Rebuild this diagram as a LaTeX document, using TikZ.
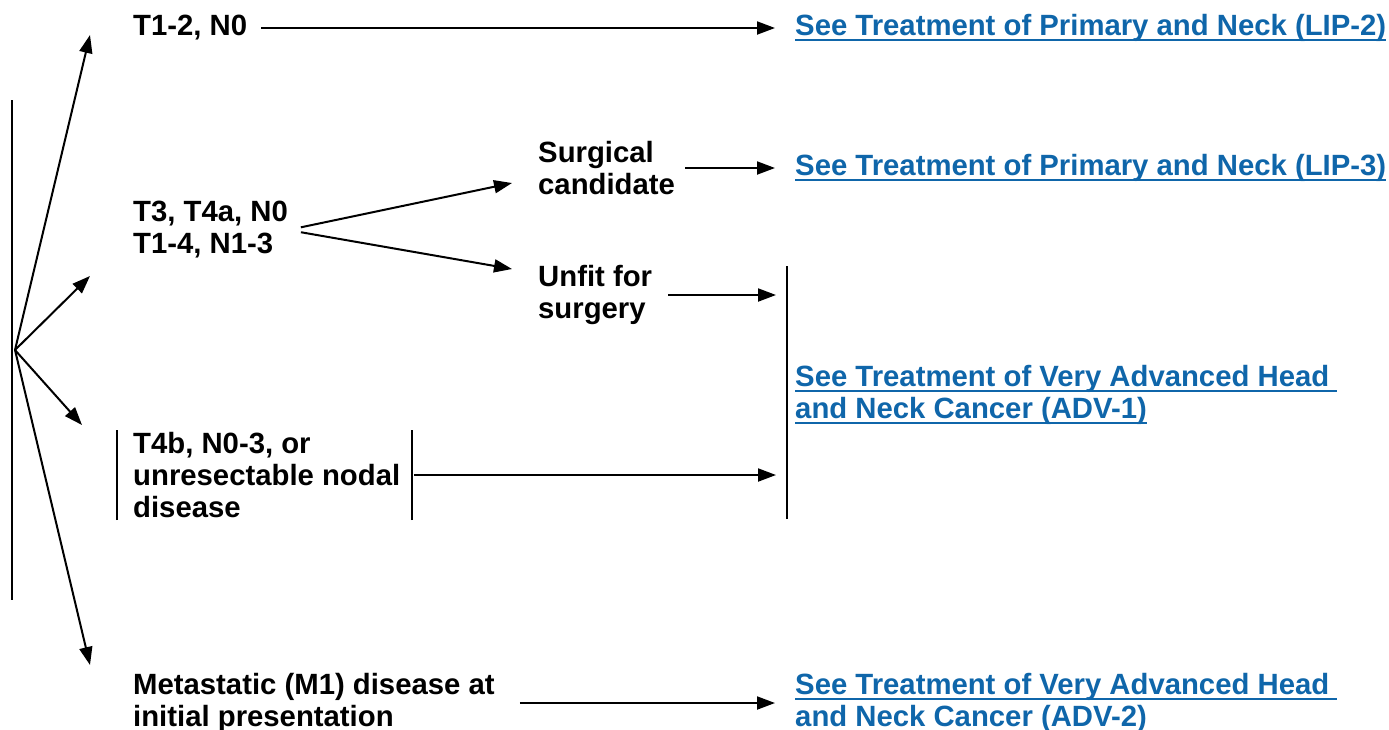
\documentclass[tikz,border=0pt]{standalone}
\usepackage{fontspec}
\setmainfont{Liberation Sans}
\usepackage{tikz}
\usetikzlibrary{positioning,arrows.meta,calc}
\definecolor{nclink}{HTML}{0F66AA}
\newcommand{\linkline}[1]{\setbox0\hbox{#1}\rlap{\vrule height -3pt depth 5pt width \wd0}\box0}

\begin{document}
\begin{tikzpicture}[x=1pt,y=-1pt,
		stage/.style={anchor=west, inner sep=0pt, align=left, font=\bfseries\fontsize{29.3}{32}\selectfont},
		link/.style={stage, text=nclink},
		arr/.style={-{Triangle[length=18pt,width=13pt]}, line width=2pt},
		bar/.style={line width=2pt}
	]
	\useasboundingbox (0,0) rectangle (1389,729);
	
	\node[stage] (t12) at (133,28) {T1-2, N0};
	\node[link] (lip2) at (795,28) {\linkline{See Treatment of Primary and Neck (LIP-2)}};
	\node[stage] (t3) at (133,230) {T3, T4a, N0\\T1-4, N1-3};
	\node[stage] (surg) at (538,168) {Surgical\\candidate};
	\node[link] (lip3) at (795,168) {\linkline{See Treatment of Primary and Neck (LIP-3)}};
	\node[stage] (unfit) at (538,295) {Unfit for\\surgery};
	\node[link] (adv1) at (795,395) {\linkline{See Treatment of Very Advanced Head\ }\\\linkline{and Neck Cancer (ADV-1)}};
	\node[stage] (t4b) at (133,475) {T4b, N0-3, or\\unresectable nodal\\disease};
	\node[stage] (m1) at (133,703) {Metastatic (M1) disease at\\initial presentation};
	\node[link] (adv2) at (795,703) {\linkline{See Treatment of Very Advanced Head\ }\\\linkline{and Neck Cancer (ADV-2)}};
	
	\coordinate (root) at (15,350);
	\coordinate (up1) at (90,35);
	\coordinate (up2) at (90,276);
	\coordinate (dn1) at (82,425);
	\coordinate (dn2) at (90,665);
	\coordinate (sc) at (512,183);
	\coordinate (uf) at (512,269);
	\coordinate (t4bl) at (117,475);
	\coordinate (t4br) at (412,475);
	\coordinate (advbar) at (787,393);
	
	\draw[bar] (12,100) -- (12,600);
	\draw[bar] ([yshift=-45pt]t4bl) -- ([yshift=45pt]t4bl);
	\draw[bar] ([yshift=-45pt]t4br) -- ([yshift=45pt]t4br);
	\draw[bar] ([yshift=-126pt]advbar) -- ([yshift=127pt]advbar);
	
	\foreach \tip in {up1,up2,dn1,dn2}
	\draw[arr] (root) -- (\tip);
	\draw[arr, shorten <=14pt, shorten >=20pt] (t12.east) -- (lip2.west);
	\draw[arr, shorten <=13pt] (t3.east) -- (sc);
	\draw[arr, shorten <=13pt] (t3.east) -- (uf);
	\draw[arr, shorten <=10pt, shorten >=20pt] (surg.east) -- (lip3.west);
	\draw[arr, shorten <=16pt, shorten >=11pt] (unfit.east) -- (unfit.east -| advbar);
	\draw[arr, shorten <=2pt, shorten >=11pt] (t4br) -- (t4br -| advbar);
	\draw[arr, shorten <=25pt, shorten >=20pt] (m1.east |- adv2.west) -- (adv2.west);
\end{tikzpicture}
\end{document}
